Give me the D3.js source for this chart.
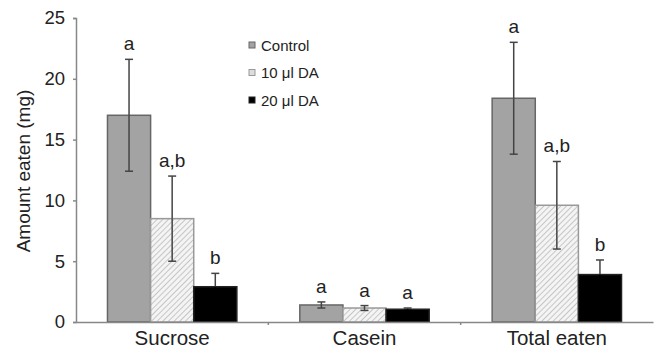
<!DOCTYPE html>
<html>
<head>
<meta charset="utf-8">
<script src="https://cdn.jsdelivr.net/npm/d3@7"></script>
<style>
body{margin:0;background:#fff;}
svg{font-family:"Liberation Sans",Arial,sans-serif;}
</style>
</head>
<body>
<svg id="chart" width="658" height="351"></svg>
<script>
var categories = ["Sucrose","Casein","Total eaten"];
var series = ["Control","10 \u03bcl DA","20 \u03bcl DA"];
var means = [[17.0,8.5,2.9],[1.4,1.15,1.05],[18.4,9.6,3.9]];
var errs = [[4.6,3.5,1.1],[0.25,0.2,0.1],[4.6,3.6,1.2]];
var letters = [["a","a,b","b"],["a","a","a"],["a","a,b","b"]];
var yTicks = [0,5,10,15,20,25];

var svg = d3.select("#chart");
var mLeft=76, mRight=653, mTop=18, mBottom=322;

// motif hachuré pour 10 ul
var defs = svg.append("defs");
var pat = defs.append("pattern").attr("id","hatch").attr("patternUnits","userSpaceOnUse")
    .attr("width",4).attr("height",4).attr("patternTransform","rotate(45)");
pat.append("rect").attr("width",4).attr("height",4).attr("fill","#f4f4f4");
pat.append("line").attr("x1",0).attr("y1",0).attr("x2",0).attr("y2",4).attr("stroke","#a8a8a8").attr("stroke-width",1.2);

var fills = ["#a3a3a3","url(#hatch)","#000"];
var strokes = ["#666","#999","#222"];

var x = d3.scaleBand().domain(categories).range([mLeft,mRight]).paddingInner(0).paddingOuter(0);
var xs = d3.scaleBand().domain(series).range([0,x.bandwidth()]).paddingOuter(0.73).paddingInner(0);
var y = d3.scaleLinear().domain([0,25]).range([mBottom,mTop]);

// axe y
var yAxis = svg.append("g").attr("transform","translate("+mLeft+",0)")
    .call(d3.axisLeft(y).tickValues(yTicks).tickSize(3).tickPadding(8));
yAxis.select(".domain").attr("stroke","#888").attr("stroke-width",1.5);
yAxis.selectAll(".tick line").attr("stroke","#888").attr("stroke-width",1.5);
yAxis.selectAll("text").attr("font-size",18.5).attr("fill","#222").style("font-family","Liberation Sans, Arial, sans-serif");

svg.append("text").attr("transform","translate(30,"+((mTop+mBottom)/2+1)+") rotate(-90)")
    .attr("text-anchor","middle").attr("font-size",19).attr("fill","#222").text("Amount eaten (mg)");

// barres
categories.forEach(function(c,i){
    var g = svg.append("g").attr("transform","translate("+x(c)+",0)");
    series.forEach(function(s,j){
        var v = means[i][j], e = errs[i][j];
        var bx = xs(s), bw = xs.bandwidth();
        g.append("rect").attr("x",bx).attr("y",y(v)).attr("width",bw).attr("height",y(0)-y(v))
            .attr("fill",fills[j]).attr("stroke",strokes[j]).attr("stroke-width",1.5);
        var cx = bx+bw/2;
        var ec = "#444";
        var ecIn = j==2 ? "#000" : "#444"; // dans la barre noire on ne voit rien
        g.append("line").attr("x1",cx).attr("x2",cx).attr("y1",y(v+e)).attr("y2",y(v)).attr("stroke",ec).attr("stroke-width",1.5);
        g.append("line").attr("x1",cx).attr("x2",cx).attr("y1",y(v)).attr("y2",y(v-e)).attr("stroke",ecIn).attr("stroke-width",1.5);
        g.append("line").attr("x1",cx-4).attr("x2",cx+4).attr("y1",y(v+e)).attr("y2",y(v+e)).attr("stroke",ec).attr("stroke-width",1.5);
        g.append("line").attr("x1",cx-4).attr("x2",cx+4).attr("y1",y(v-e)).attr("y2",y(v-e)).attr("stroke",ecIn).attr("stroke-width",1.5);
        g.append("text").attr("x",cx).attr("y",y(v+e)-9).attr("text-anchor","middle")
            .attr("font-size",19).attr("fill","#222").text(letters[i][j]);
    });
});

// axe x
var xAxis = svg.append("g").attr("transform","translate(0,"+mBottom+")")
    .call(d3.axisBottom(x).tickSize(0).tickPadding(8));
xAxis.select(".domain").attr("stroke","#888").attr("stroke-width",1.5);
xAxis.selectAll("text").attr("font-size",20.5).attr("fill","#222").style("font-family","Liberation Sans, Arial, sans-serif");
// petites graduations entre catégories
[1,2].forEach(function(k){
    var xx = mLeft + k*x.bandwidth();
    svg.append("line").attr("x1",xx).attr("x2",xx).attr("y1",mBottom).attr("y2",mBottom+3).attr("stroke","#888").attr("stroke-width",1.5);
});

// légende
var leg = svg.append("g").attr("transform","translate(249,45)");
series.forEach(function(s,j){
    var ly = j*27.5;
    leg.append("rect").attr("x",0).attr("y",ly-3).attr("width",6).attr("height",6)
        .attr("fill",j==1?"#ddd":fills[j]).attr("stroke",strokes[j]).attr("stroke-width",1);
    leg.append("text").attr("x",12).attr("y",ly+5.5).attr("font-size",15).attr("fill","#222").text(s);
});
</script>
</body>
</html>
